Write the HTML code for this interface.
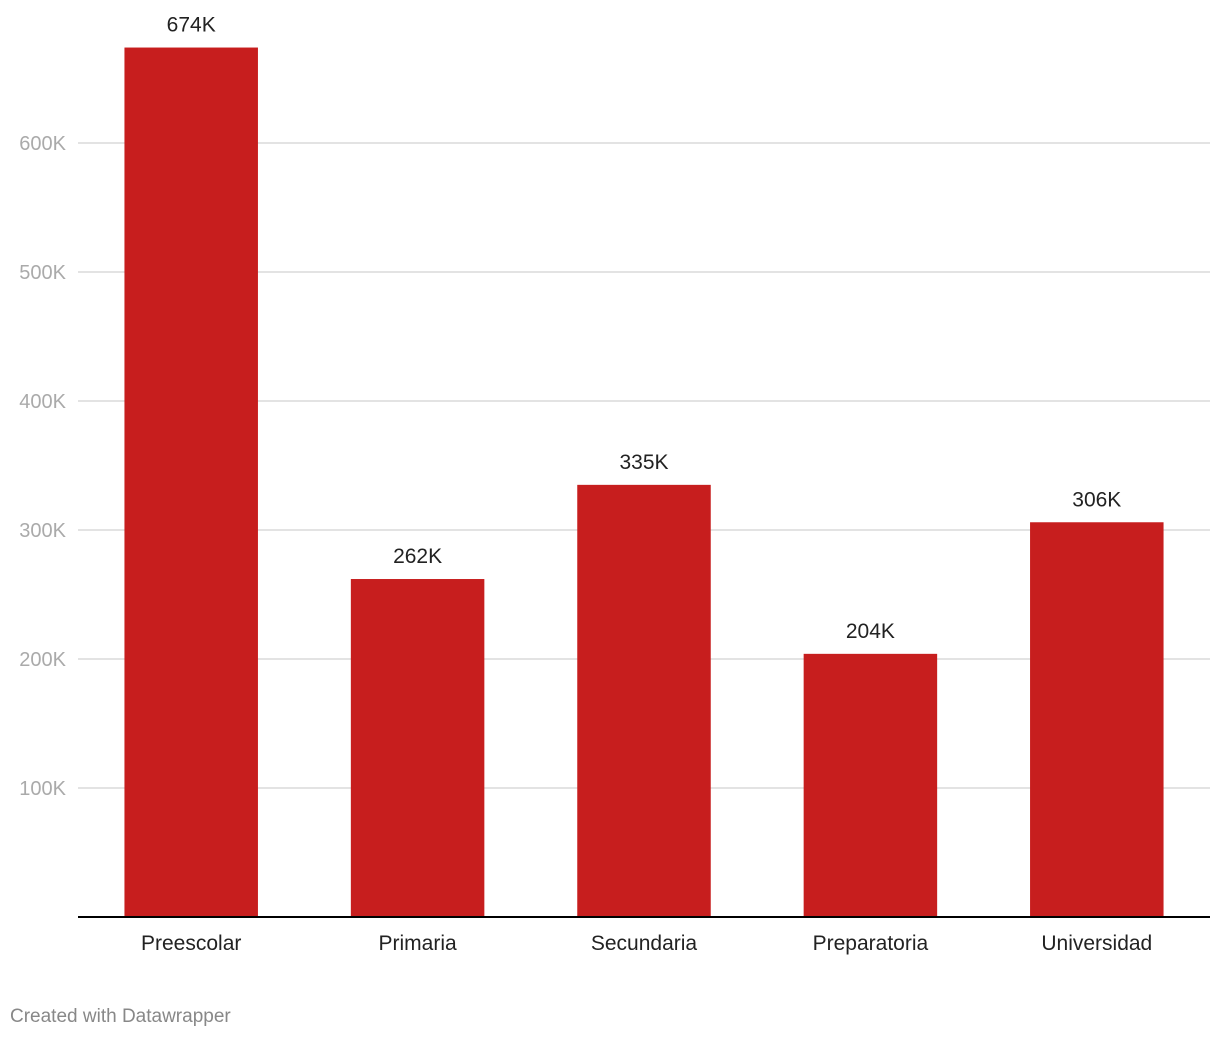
<!DOCTYPE html>
<html><head><meta charset="utf-8"><style>
body{margin:0;background:#fff;width:1220px;height:1038px;overflow:hidden;font-family:"Liberation Sans",sans-serif}
</style></head><body>
<svg id="chart" width="1220" height="1038" xmlns="http://www.w3.org/2000/svg"></svg>
<script>
const categories=["Preescolar","Primaria","Secundaria","Preparatoria","Universidad"];
const values=[674,262,335,204,306];
const valueLabels=["674K","262K","335K","204K","306K"];
const tickValues=[100,200,300,400,500,600];
const tickLabels=["100K","200K","300K","400K","500K","600K"];
const svg=document.getElementById('chart');
const NS="http://www.w3.org/2000/svg";
const x0=78,x1=1210,base=917,pxPer=1.29;
const y=v=>base-v*pxPer;
const step=(x1-x0)/categories.length,bw=133.5;
const cx=i=>x0+step*(i+0.5);
function mk(t,a){const e=document.createElementNS(NS,t);for(const k in a)e.setAttribute(k,a[k]);svg.appendChild(e);return e;}
tickValues.forEach((v,i)=>{
  const l=mk('line',{x1:x0,x2:x1,y1:y(v),y2:y(v),stroke:'#e3e3e3','stroke-width':2});
  
  
  const t=mk('text',{x:66,y:y(v)+7,'text-anchor':'end','font-size':20,fill:'#aaaaaa'});
  t.textContent=tickLabels[i];
  
  
});
categories.forEach((c,i)=>{
  const r=mk('rect',{x:cx(i)-bw/2,y:y(values[i]),width:bw,height:values[i]*pxPer,fill:'#c71e1e'});
  
  
  const vl=mk('text',{x:cx(i),y:y(values[i])-16,'text-anchor':'middle','font-size':21,fill:'#222'});
  vl.textContent=valueLabels[i];
  
  
  const cl=mk('text',{x:cx(i),y:950,'text-anchor':'middle','font-size':21,fill:'#222'});
  cl.textContent=c;
  
  
});
const ax=mk('line',{x1:x0,x2:x1,y1:base,y2:base,stroke:'#000','stroke-width':2});


const f=mk('text',{x:10,y:1022,'font-size':19,fill:'#888'});
f.textContent="Created with Datawrapper";


</script>
</body></html>
